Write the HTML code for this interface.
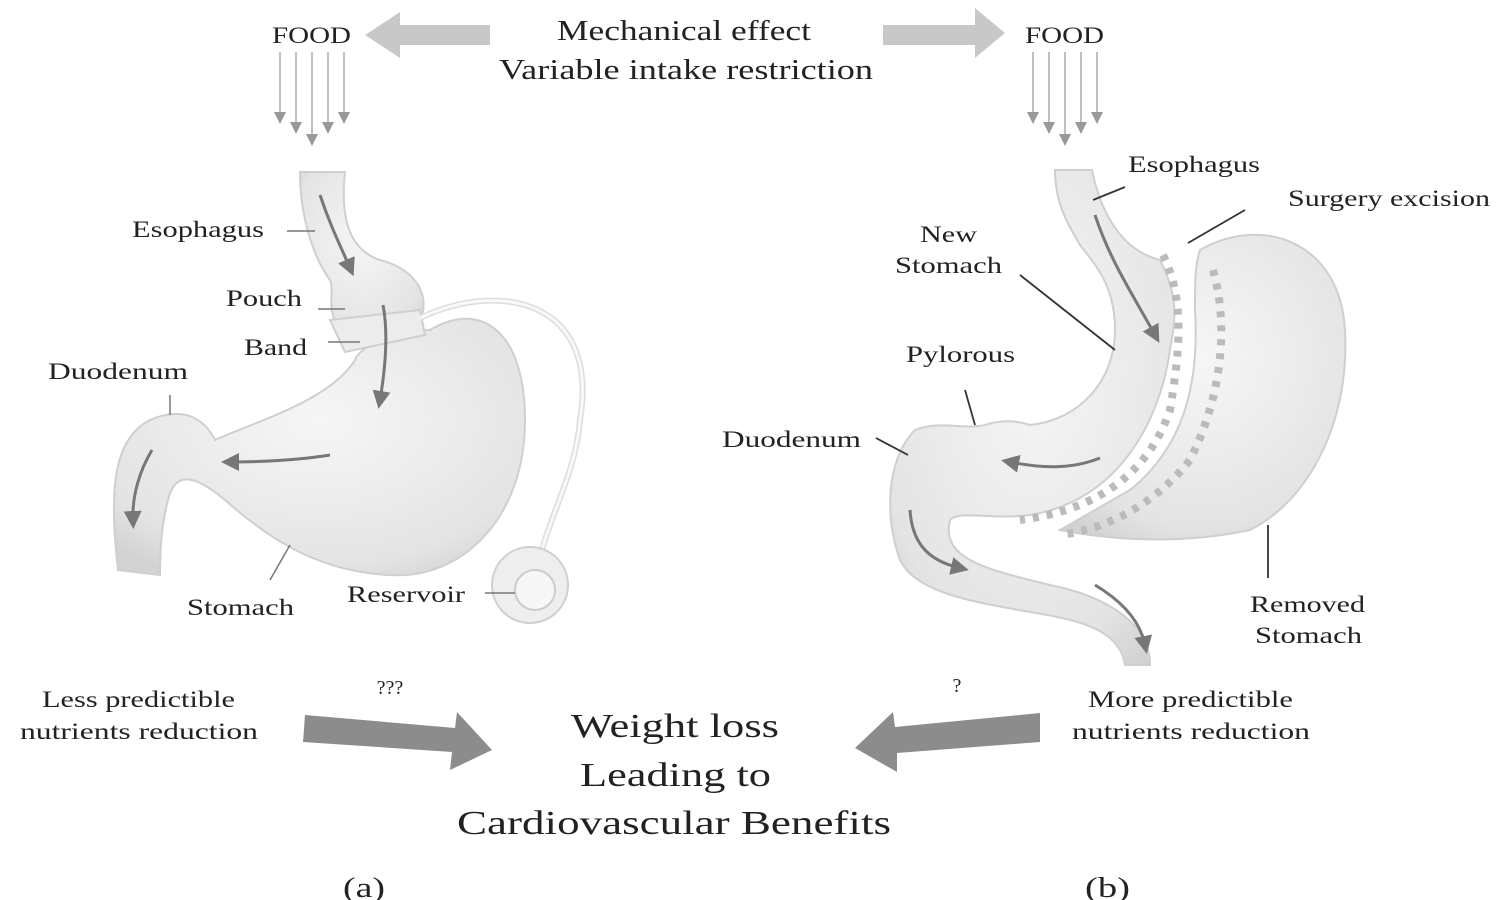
<!DOCTYPE html>
<html><head><meta charset="utf-8"><style>
html,body{margin:0;padding:0;background:#fff}
svg{display:block}
text{font-family:"Liberation Serif",serif;fill:#222}
</style></head><body>
<svg width="1500" height="900" viewBox="0 0 1500 900" xmlns="http://www.w3.org/2000/svg">
<defs>
<marker id="ah" markerWidth="8" markerHeight="8" refX="4" refY="4" orient="auto"><path d="M0,0 L8,4 L0,8 z" fill="#999"/></marker>
<marker id="ad" markerWidth="6" markerHeight="6" refX="3" refY="3" orient="auto"><path d="M0,0 L6,3 L0,6 z" fill="#777"/></marker>
<radialGradient id="g1" cx="0.5" cy="0.4" r="0.7"><stop offset="0" stop-color="#f6f6f6"/><stop offset="0.8" stop-color="#e4e4e4"/><stop offset="1" stop-color="#d2d2d2"/></radialGradient>
</defs>
<rect width="1500" height="900" fill="#fff"/>

<polygon points="490,25 400,25 400,12 365,35 400,58 400,45 490,45" fill="#c8c8c8"/>
<polygon points="883,25 975,25 975,8 1005,33 975,58 975,45 883,45" fill="#c8c8c8"/>
<g font-size="28" lengthAdjust="spacingAndGlyphs">
<text x="557" y="40" textLength="254" lengthAdjust="spacingAndGlyphs">Mechanical effect</text>
<text x="499" y="79" textLength="374" lengthAdjust="spacingAndGlyphs">Variable intake restriction</text>
</g>
<text x="272" y="43" font-size="23" textLength="79" lengthAdjust="spacingAndGlyphs">FOOD</text>
<text x="1025" y="43" font-size="23" textLength="79" lengthAdjust="spacingAndGlyphs">FOOD</text>
<g stroke="#aaa" stroke-width="1.5" marker-end="url(#ah)">
<line x1="280" y1="52" x2="280" y2="118"/><line x1="296" y1="52" x2="296" y2="128"/><line x1="312" y1="52" x2="312" y2="140"/><line x1="328" y1="52" x2="328" y2="128"/><line x1="344" y1="52" x2="344" y2="118"/>
<line x1="1033" y1="52" x2="1033" y2="118"/><line x1="1049" y1="52" x2="1049" y2="128"/><line x1="1065" y1="52" x2="1065" y2="140"/><line x1="1081" y1="52" x2="1081" y2="128"/><line x1="1097" y1="52" x2="1097" y2="118"/>
</g>

<!-- left stomach -->
<g stroke="#cfcfcf" stroke-width="2" fill="url(#g1)">
<path d="M118,570 C110,500 110,440 150,420 C185,405 205,420 215,440 C260,420 330,400 355,360 C360,345 400,330 430,330 C480,300 525,330 525,420 C525,520 460,580 390,575 C320,572 270,540 225,500 C195,475 175,470 168,500 C160,530 160,560 160,575 Z"/>
<path d="M300,172 L345,172 C340,220 350,250 380,260 C420,270 430,300 420,320 C400,345 360,345 340,330 C325,310 335,290 330,280 C315,260 300,220 300,172 Z"/>
<path d="M330,320 L420,310 L425,335 L345,352 Z" fill="#ececec"/>
</g>
<path d="M420,318 C500,280 600,300 580,420 C575,480 545,520 535,580" fill="none" stroke="#ddd" stroke-width="6"/>
<path d="M420,318 C500,280 600,300 580,420 C575,480 545,520 535,580" fill="none" stroke="#f8f8f8" stroke-width="3"/>
<circle cx="530" cy="585" r="38" fill="#eee" stroke="#cfcfcf" stroke-width="2"/>
<circle cx="535" cy="590" r="20" fill="#f7f7f7" stroke="#ccc" stroke-width="2"/>
<g stroke="#777" stroke-width="3" fill="none" marker-end="url(#ad)">
<path d="M320,195 C330,225 340,245 350,268"/>
<path d="M383,305 C388,330 386,365 380,400"/>
<path d="M330,455 C300,460 260,462 230,462"/>
<path d="M152,450 C140,470 132,495 133,520"/>
</g>
<g stroke="#777" stroke-width="1.5">
<line x1="287" y1="231" x2="315" y2="231"/><line x1="318" y1="309" x2="345" y2="309"/><line x1="328" y1="342" x2="360" y2="342"/><line x1="170" y1="395" x2="170" y2="415"/><line x1="270" y1="580" x2="290" y2="545"/><line x1="485" y1="593" x2="515" y2="593"/>
</g>
<g font-size="23">
<text x="132" y="237" textLength="132" lengthAdjust="spacingAndGlyphs">Esophagus</text>
<text x="226" y="306" textLength="76" lengthAdjust="spacingAndGlyphs">Pouch</text>
<text x="244" y="355" textLength="63" lengthAdjust="spacingAndGlyphs">Band</text>
<text x="48" y="379" textLength="140" lengthAdjust="spacingAndGlyphs">Duodenum</text>
<text x="187" y="615" textLength="107" lengthAdjust="spacingAndGlyphs">Stomach</text>
<text x="347" y="602" textLength="118" lengthAdjust="spacingAndGlyphs">Reservoir</text>
</g>

<!-- right stomach -->
<g stroke="#cfcfcf" stroke-width="2" fill="url(#g1)">
<path d="M1200,250 C1260,215 1340,240 1345,330 C1350,420 1310,500 1250,530 C1180,545 1110,540 1060,530 L1130,490 C1180,450 1200,390 1195,310 C1195,280 1195,265 1200,250 Z"/>
<path d="M1055,170 L1092,170 C1100,210 1120,250 1160,260 C1180,300 1175,320 1170,350 C1160,420 1120,500 1030,515 C990,520 960,510 950,520 C940,560 990,570 1050,585 C1100,595 1150,620 1150,665 L1125,665 C1120,630 1080,620 1030,612 C960,600 915,590 900,560 C885,520 885,460 915,430 C940,420 965,430 985,425 C1000,420 1015,420 1030,425 C1080,420 1115,380 1115,330 C1115,290 1100,270 1080,245 C1065,220 1055,200 1055,170 Z"/>
</g>
<g stroke="#bbb" stroke-width="8" stroke-dasharray="6,8" fill="none">
<path d="M1163,255 C1185,300 1180,350 1170,410 C1150,470 1100,510 1020,520"/>
<path d="M1213,270 C1230,330 1220,400 1190,460 C1150,510 1100,530 1060,535"/>
</g>
<g stroke="#777" stroke-width="3" fill="none" marker-end="url(#ad)">
<path d="M1095,215 C1110,260 1130,290 1155,335"/>
<path d="M1100,458 C1070,470 1040,468 1010,462"/>
<path d="M910,510 C912,540 925,560 960,568"/>
<path d="M1095,585 C1120,600 1140,620 1145,645"/>
</g>
<g stroke="#333" stroke-width="1.8">
<line x1="1125" y1="187" x2="1093" y2="200"/><line x1="1245" y1="210" x2="1188" y2="243"/><line x1="1020" y1="275" x2="1115" y2="350"/><line x1="965" y1="390" x2="975" y2="425"/><line x1="876" y1="438" x2="908" y2="455"/><line x1="1268" y1="525" x2="1268" y2="578"/>
</g>
<g font-size="23">
<text x="1128" y="172" textLength="132" lengthAdjust="spacingAndGlyphs">Esophagus</text>
<text x="1288" y="206" textLength="202" lengthAdjust="spacingAndGlyphs">Surgery excision</text>
<text x="920" y="242" textLength="57" lengthAdjust="spacingAndGlyphs">New</text>
<text x="895" y="273" textLength="107" lengthAdjust="spacingAndGlyphs">Stomach</text>
<text x="906" y="362" textLength="109" lengthAdjust="spacingAndGlyphs">Pylorous</text>
<text x="722" y="447" textLength="139" lengthAdjust="spacingAndGlyphs">Duodenum</text>
<text x="1250" y="612" textLength="115" lengthAdjust="spacingAndGlyphs">Removed</text>
<text x="1255" y="643" textLength="107" lengthAdjust="spacingAndGlyphs">Stomach</text>
</g>

<g font-size="23">
<text x="42" y="707" textLength="193" lengthAdjust="spacingAndGlyphs">Less predictible</text>
<text x="20" y="739" textLength="238" lengthAdjust="spacingAndGlyphs">nutrients reduction</text>
<text x="1088" y="707" textLength="205" lengthAdjust="spacingAndGlyphs">More predictible</text>
<text x="1072" y="739" textLength="238" lengthAdjust="spacingAndGlyphs">nutrients reduction</text>
<text x="390" y="694" font-size="20" text-anchor="middle">???</text><text x="957" y="692" font-size="20" text-anchor="middle">?</text>
</g>
<polygon points="305,715 455,728 457,712 492,750 450,770 452,752 303,742" fill="#8c8c8c"/>
<polygon points="1040,713 895,727 893,712 855,748 897,772 897,753 1040,742" fill="#8c8c8c"/>
<g font-size="34">
<text x="571" y="737" textLength="208" lengthAdjust="spacingAndGlyphs">Weight loss</text>
<text x="580" y="786" textLength="191" lengthAdjust="spacingAndGlyphs">Leading to</text>
<text x="457" y="834" textLength="434" lengthAdjust="spacingAndGlyphs">Cardiovascular Benefits</text>
</g>
<text x="343" y="897" font-size="28" textLength="42" lengthAdjust="spacingAndGlyphs">(a)</text>
<text x="1085" y="897" font-size="28" textLength="45" lengthAdjust="spacingAndGlyphs">(b)</text>
</svg>
</body></html>
